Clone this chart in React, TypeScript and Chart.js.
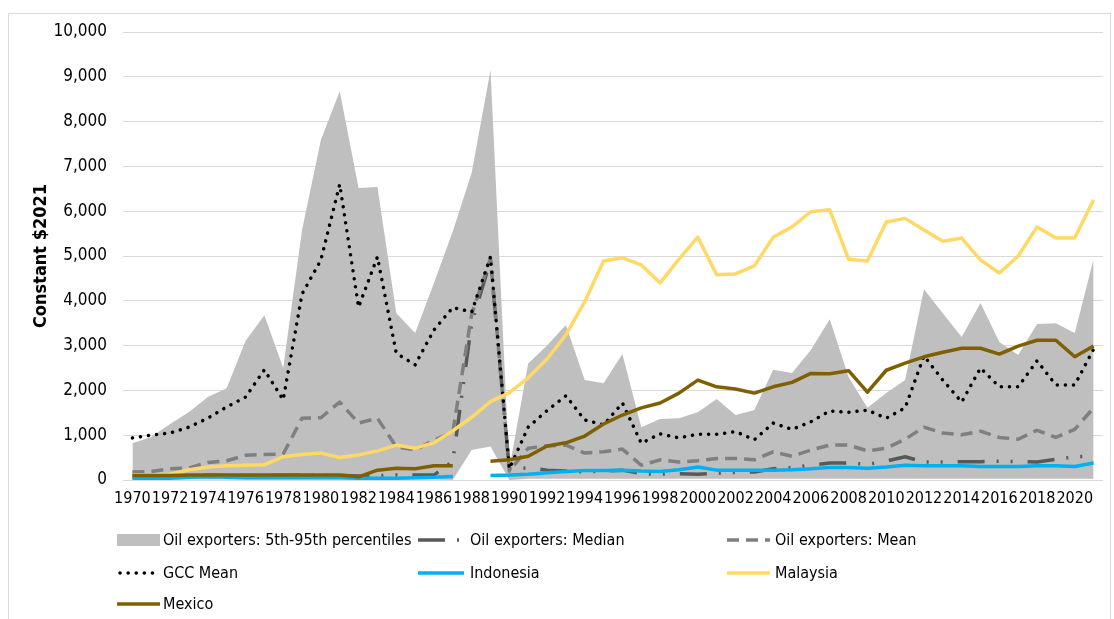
import React, { useEffect, useRef } from "react";
import { Chart, registerables } from "chart.js";

Chart.register(...registerables);

const years: string[] = [];
for (let y = 1970; y <= 2021; y++) years.push(String(y));

// Oil exporters: 5th percentile (lower edge of band)
const p5 = [
  10, 10, 10, 10, 10, 10, 10, 10, 10, 10,
  10, 10, 10, 10, 10, 10, 10, 0, 670, 750,
  0, 30, 30, 30, 30, 30, 30, 30, 30, 30,
  30, 30, 30, 30, 30, 30, 30, 30, 30, 30,
  30, 30, 30, 30, 30, 30, 30, 30, 30, 30,
  30, 30,
];

// Oil exporters: 95th percentile (upper edge of band)
const p95 = [
  820, 960, 1250, 1520, 1850, 2050, 3100, 3680, 2500, 5580,
  7590, 8680, 6520, 6540, 3730, 3280, 4400, 5550, 6850, 9150,
  250, 2600, 3000, 3460, 2230, 2160, 2810, 1180, 1360, 1380,
  1510, 1810, 1450, 1560, 2460, 2390, 2900, 3590, 2300, 1610,
  1940, 2230, 4260, 3720, 3190, 3950, 3080, 2790, 3480, 3500,
  3280, 4930,
];

const median = [
  90, 90, 100, 100, 110, 100, 100, 100, 100, 110,
  110, 100, 90, 100, 110, 110, 110, 420, 3500, 4900,
  250, 270, 220, 200, 180, 200, 220, 140, 130, 140,
  130, 150, 170, 180, 250, 280, 330, 380, 380, 350,
  420, 520, 400, 400, 410, 410, 420, 410, 400, 460,
  520, 530,
];

const mean = [
  180, 190, 250, 270, 390, 430, 550, 570, 580, 1380,
  1390, 1740, 1270, 1380, 740, 670, 890, 1070, 3700, 4950,
  200, 710, 760, 780, 600, 630, 690, 330, 450, 400,
  430, 480, 480, 450, 630, 530, 670, 780, 780, 650,
  710, 910, 1180, 1050, 1010, 1090, 950, 910, 1110, 950,
  1130, 1610,
];

const gccMean = [
  940, 1000, 1050, 1180, 1380, 1630, 1850, 2460, 1790, 4150,
  4910, 6600, 3860, 4980, 2830, 2570, 3350, 3850, 3750, 4980,
  250, 1180, 1550, 1880, 1340, 1230, 1720, 820, 1030, 940,
  1020, 1020, 1080, 900, 1270, 1130, 1300, 1540, 1510, 1560,
  1380, 1610, 2770, 2230, 1740, 2500, 2080, 2080, 2660, 2120,
  2120, 2920,
];

const indonesia = [
  40, 40, 40, 60, 70, 60, 50, 50, 50, 50,
  50, 50, 40, 40, 40, 50, 60, 80, null, 100,
  110, 130, 160, 190, 210, 210, 220, 200, 190, 230,
  290, 220, 220, 220, 220, 230, 250, 280, 280, 260,
  290, 330, 320, 320, 320, 300, 300, 300, 320, 320,
  300, 380,
];

const malaysia = [
  110, 110, 130, 230, 290, 320, 330, 340, 520, 570,
  600, 500, 560, 650, 780, 710, 830, 1100, 1400, 1750,
  1950, 2280, 2700, 3240, 3980, 4890, 4960, 4800, 4400, 4930,
  5420, 4580, 4600, 4780, 5420, 5650, 5990, 6030, 4930, 4890,
  5760, 5840, 5580, 5330, 5400, 4910, 4620, 5000, 5650, 5400,
  5400, 6250,
];

const mexico = [
  100, 100, 100, 110, 110, 110, 110, 110, 110, 110,
  110, 110, 70, 220, 260, 250, 320, 320, null, 420,
  450, 530, 760, 830, 980, 1250, 1450, 1610, 1720, 1940,
  2230, 2080, 2030, 1940, 2080, 2180, 2380, 2370, 2440, 1960,
  2450, 2610, 2750, 2850, 2940, 2940, 2810, 2990, 3120, 3120,
  2750, 2990,
];

const FONT = '"Liberation Sans Narrow", "DejaVu Sans Condensed", "Liberation Sans", sans-serif';

const C_BAND = "#bfbfbf";
const C_MEDIAN = "#595959";
const C_MEAN = "#7f7f7f";
const C_GCC = "#000000";
const C_INDO = "#00b0f0";
const C_MALAY = "#ffd966";
const C_MEX = "#7f6000";

const DASH_MEDIAN = [27, 12, 2, 12, 2, 15];
const DASH_MEAN = [12, 7];
const DASH_GCC = [0.1, 8];

type LegendItem = {
  label: string;
  kind: "box" | "line";
  color: string;
  dash: number[];
  cap: CanvasLineCap;
  col: number;
  row: number;
};

const legendItems: LegendItem[] = [
  { label: "Oil exporters: 5th-95th percentiles", kind: "box", color: C_BAND, dash: [], cap: "butt", col: 0, row: 0 },
  { label: "Oil exporters: Median", kind: "line", color: C_MEDIAN, dash: DASH_MEDIAN, cap: "butt", col: 1, row: 0 },
  { label: "Oil exporters: Mean", kind: "line", color: C_MEAN, dash: DASH_MEAN, cap: "butt", col: 2, row: 0 },
  { label: "GCC Mean", kind: "line", color: C_GCC, dash: DASH_GCC, cap: "round", col: 0, row: 1 },
  { label: "Indonesia", kind: "line", color: C_INDO, dash: [], cap: "butt", col: 1, row: 1 },
  { label: "Malaysia", kind: "line", color: C_MALAY, dash: [], cap: "butt", col: 2, row: 1 },
  { label: "Mexico", kind: "line", color: C_MEX, dash: [], cap: "butt", col: 0, row: 2 },
];

export default function App() {
  const ref = useRef<HTMLCanvasElement>(null);

  useEffect(() => {
    if (!ref.current) return;

    const colSwatch = [117, 418, 727];
    const colSwatchW = [43, 46, 43];
    const colText = [163, 470, 775];
    const rowY = [540, 573, 604];

    const framePlugin = {
      id: "frameAndLegend",
      beforeDraw(chart: any) {
        const ctx = chart.ctx;
        ctx.save();
        ctx.fillStyle = "#ffffff";
        ctx.fillRect(0, 0, chart.width, chart.height);
        ctx.strokeStyle = "#d9d9d9";
        ctx.lineWidth = 1;
        ctx.strokeRect(8.5, 13.5, 1102, 640);
        ctx.restore();
      },
      afterDraw(chart: any) {
        const ctx = chart.ctx;
        ctx.save();
        ctx.font = `16px ${FONT}`;
        ctx.textBaseline = "middle";
        ctx.textAlign = "left";
        for (const it of legendItems) {
          const sx = colSwatch[it.col];
          const sw = colSwatchW[it.col];
          const y = rowY[it.row];
          if (it.kind === "box") {
            ctx.fillStyle = it.color;
            ctx.fillRect(sx, y - 6, sw, 12);
          } else {
            ctx.beginPath();
            ctx.strokeStyle = it.color;
            ctx.lineWidth = 3.5;
            ctx.lineCap = it.cap;
            ctx.setLineDash(it.dash);
            ctx.moveTo(sx + (it.cap === "round" ? 3 : 0), y);
            ctx.lineTo(sx + sw, y);
            ctx.stroke();
            ctx.setLineDash([]);
          }
          ctx.fillStyle = "#000000";
          ctx.fillText(it.label, colText[it.col], y + 1);
        }
        ctx.restore();
      },
    };

    const lineDs = (label: string, data: (number | null)[], color: string, dash: number[], cap: CanvasLineCap = "butt") => ({
      label,
      data,
      borderColor: color,
      backgroundColor: color,
      borderWidth: 3.5,
      borderDash: dash,
      borderCapStyle: cap,
      borderJoinStyle: "round" as CanvasLineJoin,
      pointRadius: 0,
      pointHoverRadius: 0,
      tension: 0,
      fill: false,
      spanGaps: false,
    });

    const chart = new Chart(ref.current, {
      type: "line",
      data: {
        labels: years,
        datasets: [
          lineDs("Mexico", mexico, C_MEX, []),
          lineDs("Malaysia", malaysia, C_MALAY, []),
          lineDs("Indonesia", indonesia, C_INDO, []),
          lineDs("GCC Mean", gccMean, C_GCC, DASH_GCC, "round"),
          lineDs("Oil exporters: Mean", mean, C_MEAN, DASH_MEAN),
          lineDs("Oil exporters: Median", median, C_MEDIAN, DASH_MEDIAN),
          {
            label: "5th percentile",
            data: p5,
            borderColor: "rgba(0,0,0,0)",
            borderWidth: 0,
            pointRadius: 0,
            fill: false,
            tension: 0,
          },
          {
            label: "Oil exporters: 5th-95th percentiles",
            data: p95,
            borderColor: "rgba(0,0,0,0)",
            backgroundColor: C_BAND,
            borderWidth: 0,
            pointRadius: 0,
            fill: "-1",
            tension: 0,
          },
        ],
      },
      options: {
        responsive: false,
        animation: false,
        devicePixelRatio: 1,
        layout: { padding: { left: 0, top: 32, right: 11, bottom: 0 } },
        plugins: {
          legend: { display: false },
          tooltip: { enabled: false },
          title: { display: false },
        },
        scales: {
          x: {
            type: "category",
            offset: true,
            grid: { display: false, drawTicks: false },
            border: { display: false },
            ticks: {
              autoSkip: false,
              maxRotation: 0,
              minRotation: 0,
              padding: 9,
              color: "#000000",
              font: { family: FONT, size: 16 },
              callback: (_v: any, i: number) => (i % 2 === 0 ? years[i] : ""),
            },
            afterFit: (scale: any) => {
              scale.height = 139;
            },
          },
          y: {
            min: 0,
            max: 10000,
            grid: { color: "#d9d9d9", lineWidth: 1, drawTicks: false },
            border: { display: false },
            ticks: {
              stepSize: 1000,
              padding: 16,
              color: "#000000",
              font: { family: FONT, size: 17 },
              callback: (v: any) => Number(v).toLocaleString("en-US"),
            },
            title: {
              display: true,
              text: "Constant $2021",
              color: "#000000",
              font: { family: FONT, size: 18, weight: "bold" },
              padding: { top: 31, bottom: 0 },
            },
            afterFit: (scale: any) => {
              scale.width = 123;
            },
          },
        },
      },
      plugins: [framePlugin],
    } as any);

    return () => chart.destroy();
  }, []);

  return (
    <div style={{ position: "absolute", left: 0, top: 0, width: 1114, height: 619, background: "#fff" }}>
      <canvas ref={ref} width={1114} height={619} style={{ display: "block", width: 1114, height: 619 }} />
    </div>
  );
}
